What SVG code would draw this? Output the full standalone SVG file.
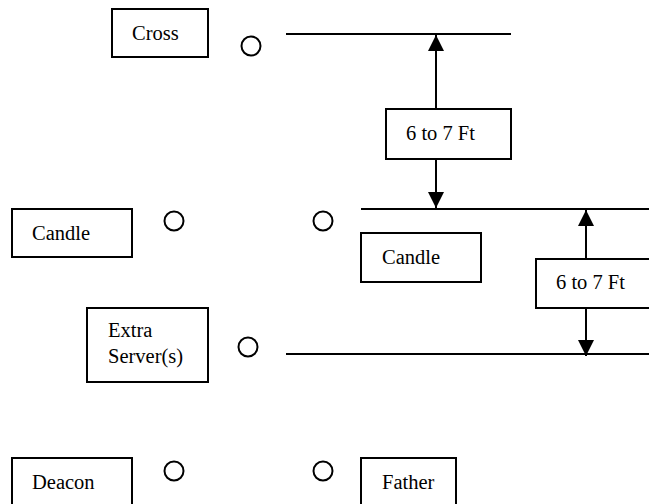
<svg xmlns="http://www.w3.org/2000/svg" width="649" height="504" viewBox="0 0 649 504">
<style>
.box{fill:#fff;stroke:#000;stroke-width:2}
.dot{fill:none;stroke:#000;stroke-width:2}
.ln{stroke:#000;stroke-width:2;fill:none}
.t{font-family:'Times New Roman',Tinos,'Liberation Serif','DejaVu Serif',serif;font-size:20.5px;fill:#000}
</style>
<defs>
<marker id="ah" markerUnits="userSpaceOnUse" markerWidth="16" markerHeight="16" viewBox="0 0 16 16" refX="16" refY="8" orient="auto">
<path d="M0,0 L16,8 L0,16 Z" fill="#000"/>
</marker>
</defs>
<g id="connectors">
<line class="ln" x1="286" y1="34" x2="511" y2="34"/>
<line class="ln" x1="361" y1="209" x2="649" y2="209"/>
<line class="ln" x1="286" y1="354" x2="649" y2="354"/>
<line class="ln" x1="436" y1="109" x2="436" y2="35" marker-end="url(#ah)"/>
<line class="ln" x1="436" y1="159" x2="436" y2="208" marker-end="url(#ah)"/>
<line class="ln" x1="586" y1="259" x2="586" y2="210" marker-end="url(#ah)"/>
<line class="ln" x1="586" y1="308" x2="586" y2="356" marker-end="url(#ah)"/>
</g>
<g id="cross"><rect class="box" x="112" y="9" width="96" height="48"/><text class="t" x="132" y="40">Cross</text></g>
<g id="dim1"><rect class="box" x="386" y="109" width="125" height="50"/><text class="t" x="406" y="140">6 to 7 Ft</text></g>
<g id="candle-left"><rect class="box" x="12" y="209" width="120" height="48"/><text class="t" x="32" y="240">Candle</text></g>
<g id="candle-right"><rect class="box" x="361" y="233" width="120" height="49"/><text class="t" x="382" y="264">Candle</text></g>
<g id="dim2"><rect class="box" x="536" y="259" width="120" height="49"/><text class="t" x="556" y="289">6 to 7 Ft</text></g>
<g id="extra-servers"><rect class="box" x="87" y="308" width="121" height="74"/><text class="t" x="108" y="337">Extra</text><text class="t" x="108" y="363">Server(s)</text></g>
<g id="deacon"><rect class="box" x="12" y="458" width="120" height="60"/><text class="t" x="32" y="489">Deacon</text></g>
<g id="father"><rect class="box" x="361" y="458" width="95" height="60"/><text class="t" x="382" y="489">Father</text></g>
<g id="circles">
<circle class="dot" cx="251" cy="46" r="9.5"/>
<circle class="dot" cx="174" cy="221" r="9.5"/>
<circle class="dot" cx="323" cy="221" r="9.5"/>
<circle class="dot" cx="248" cy="347" r="9.5"/>
<circle class="dot" cx="174" cy="471" r="9.5"/>
<circle class="dot" cx="323" cy="471" r="9.5"/>
</g>
</svg>
